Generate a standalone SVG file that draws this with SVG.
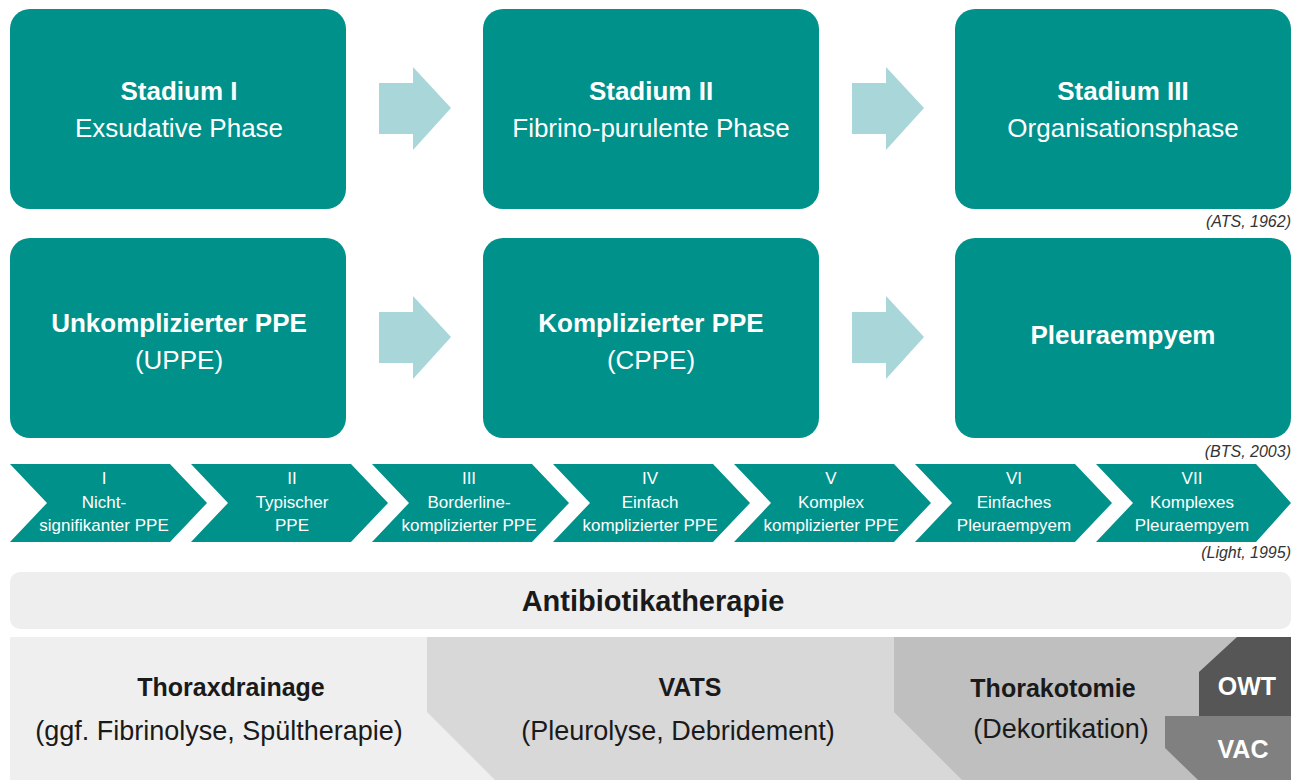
<svg xmlns="http://www.w3.org/2000/svg" width="1303" height="780" viewBox="0 0 1303 780">
<style>
.box{fill:#00918b}
.chev{fill:#00918b}
.arrow{fill:#a8d6d9}
.tb{font-family:"Liberation Sans",Arial,sans-serif;font-weight:bold;fill:#ffffff;text-anchor:middle}
.tr{font-family:"Liberation Sans",Arial,sans-serif;fill:#ffffff;text-anchor:middle}
.big{font-size:26px}
.ch{font-family:"Liberation Sans",Arial,sans-serif;font-size:17px;fill:#ffffff;text-anchor:middle}
.cite{font-family:"Liberation Sans",Arial,sans-serif;font-style:italic;font-size:16px;fill:#333333;text-anchor:end}
.db{font-family:"Liberation Sans",Arial,sans-serif;font-weight:bold;font-size:25px;fill:#1a1a1a;text-anchor:middle}
.dr{font-family:"Liberation Sans",Arial,sans-serif;font-size:27px;fill:#1a1a1a;text-anchor:middle}
</style>
<rect width="1303" height="780" fill="#ffffff"/>

<g id="stadium1"><rect class="box" x="10" y="9" width="336" height="200" rx="20"/>
<text class="tb big" x="179" y="100">Stadium I</text><text class="tr big" x="179" y="137">Exsudative Phase</text></g>
<g id="stadium2"><rect class="box" x="483" y="9" width="336" height="200" rx="20"/>
<text class="tb big" x="651" y="100">Stadium II</text><text class="tr big" x="651" y="137">Fibrino-purulente Phase</text></g>
<g id="stadium3"><rect class="box" x="955" y="9" width="336" height="200" rx="20"/>
<text class="tb big" x="1123" y="100">Stadium III</text><text class="tr big" x="1123" y="137">Organisationsphase</text></g>
<text class="cite" x="1291" y="227">(ATS, 1962)</text>

<g id="uppe"><rect class="box" x="10" y="238" width="336" height="200" rx="20"/>
<text class="tb big" x="179" y="332">Unkomplizierter PPE</text><text class="tr big" x="179" y="369">(UPPE)</text></g>
<g id="cppe"><rect class="box" x="483" y="238" width="336" height="200" rx="20"/>
<text class="tb big" x="651" y="332">Komplizierter PPE</text><text class="tr big" x="651" y="369">(CPPE)</text></g>
<g id="empyem"><rect class="box" x="955" y="238" width="336" height="200" rx="20"/>
<text class="tb big" x="1123" y="344">Pleuraempyem</text></g>
<text class="cite" x="1291" y="457">(BTS, 2003)</text>

<g id="connectors">
<polygon class="arrow" points="379,83 413,83 413,67 451,108 413,150 413,134 379,134"/>
<polygon class="arrow" points="852,83 886,83 886,67 924,108 886,150 886,134 852,134"/>
<polygon class="arrow" points="379,312 413,312 413,296 451,337 413,379 413,363 379,363"/>
<polygon class="arrow" points="852,312 886,312 886,296 924,337 886,379 886,363 852,363"/>
</g>

<g id="light1"><polygon class="chev" points="10,464 170,464 207,503 170,542 10,542 47,503"/>
<text class="ch" x="104" y="484">I</text><text class="ch" x="104" y="508">Nicht-</text><text class="ch" x="104" y="531">signifikanter PPE</text></g>
<g id="light2"><polygon class="chev" points="191,464 351,464 388,503 351,542 191,542 228,503"/>
<text class="ch" x="292" y="484">II</text><text class="ch" x="292" y="508">Typischer</text><text class="ch" x="292" y="531">PPE</text></g>
<g id="light3"><polygon class="chev" points="372,464 532,464 569,503 532,542 372,542 409,503"/>
<text class="ch" x="469" y="484">III</text><text class="ch" x="469" y="508">Borderline-</text><text class="ch" x="469" y="531">komplizierter PPE</text></g>
<g id="light4"><polygon class="chev" points="553,464 713,464 750,503 713,542 553,542 590,503"/>
<text class="ch" x="650" y="484">IV</text><text class="ch" x="650" y="508">Einfach</text><text class="ch" x="650" y="531">komplizierter PPE</text></g>
<g id="light5"><polygon class="chev" points="734,464 894,464 931,503 894,542 734,542 771,503"/>
<text class="ch" x="831" y="484">V</text><text class="ch" x="831" y="508">Komplex</text><text class="ch" x="831" y="531">komplizierter PPE</text></g>
<g id="light6"><polygon class="chev" points="915,464 1075,464 1112,503 1075,542 915,542 952,503"/>
<text class="ch" x="1014" y="484">VI</text><text class="ch" x="1014" y="508">Einfaches</text><text class="ch" x="1014" y="531">Pleuraempyem</text></g>
<g id="light7"><polygon class="chev" points="1096,464 1256,464 1291,503 1256,542 1096,542 1133,503"/>
<text class="ch" x="1192" y="484">VII</text><text class="ch" x="1192" y="508">Komplexes</text><text class="ch" x="1192" y="531">Pleuraempyem</text></g>
<text class="cite" x="1291" y="558">(Light, 1995)</text>

<g id="antibiotika"><rect x="10" y="572" width="1281" height="57" rx="10" fill="#eeeeee"/>
<text class="db" x="653" y="611" style="font-size:29px">Antibiotikatherapie</text></g>

<g id="thoraxdrainage"><rect x="10" y="637" width="1281" height="143" fill="#efefef"/>
<text class="db" x="231" y="696">Thoraxdrainage</text><text class="dr" x="219" y="740">(ggf. Fibrinolyse, Spültherapie)</text></g>
<g id="vats"><polygon points="427,637 1291,637 1291,780 495,780 427,712" fill="#d8d8d8"/>
<text class="db" x="690" y="696">VATS</text><text class="dr" x="678" y="740">(Pleurolyse, Debridement)</text></g>
<g id="thorakotomie"><polygon points="894,637 1291,637 1291,780 962,780 894,712" fill="#bfbfbf"/>
<text class="db" x="1053" y="697">Thorakotomie</text><text class="dr" x="1061" y="738">(Dekortikation)</text></g>
<g id="owt"><polygon points="1237,637 1291,637 1291,716 1199,716 1199,672" fill="#565656"/>
<text class="db" x="1247" y="695" style="fill:#ffffff">OWT</text></g>
<g id="vac"><polygon points="1165,716 1291,716 1291,780 1198,780 1165,748" fill="#808080"/>
<text class="db" x="1243" y="758" style="fill:#ffffff">VAC</text></g>
</svg>
